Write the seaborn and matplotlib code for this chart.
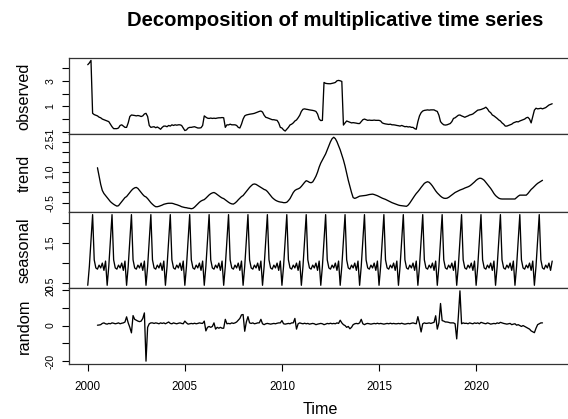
import numpy as np
import pandas as pd
import matplotlib
matplotlib.use("Agg")
import matplotlib.pyplot as plt
import seaborn as sns

# ---------------- data (monthly, Jan 2000 - Dec 2023) ----------------
start_year = 2000
observed = [
    4.26, 4.40, 4.60, 0.45, 0.35, 0.30, 0.25, 0.15, 0.10, 0.00, -0.05, -0.10,   # 2000
    -0.15, -0.20, -0.40, -0.60, -0.75, -0.75, -0.75, -0.70, -0.50, -0.45, -0.55, -0.65,  # 2001
    -0.65, -0.30, 0.20, 0.32, 0.30, 0.28, 0.25, 0.28, 0.25, 0.20, 0.25, 0.40,   # 2002
    0.45, 0.20, -0.50, -0.65, -0.62, -0.60, -0.68, -0.62, -0.70, -0.80, -0.65, -0.55,  # 2003
    -0.55, -0.60, -0.50, -0.55, -0.45, -0.50, -0.45, -0.48, -0.45, -0.45, -0.50, -0.70,  # 2004
    -0.90, -0.85, -0.70, -0.65, -0.65, -0.62, -0.60, -0.65, -0.70, -0.70, -0.68, -0.50,  # 2005
    0.25, 0.15, 0.07, 0.05, 0.08, 0.05, 0.07, 0.05, 0.08, 0.10, 0.10, 0.12,     # 2006
    0.10, -0.65, -0.45, -0.46, -0.40, -0.45, -0.45, -0.45, -0.50, -0.65, -0.70, -0.40,  # 2007
    0.00, 0.25, 0.32, 0.35, 0.38, 0.40, 0.42, 0.45, 0.50, 0.55, 0.60, 0.63,     # 2008
    0.55, 0.30, 0.14, 0.10, 0.05, 0.00, -0.05, -0.05, -0.08, -0.10, -0.30, -0.65,  # 2009
    -0.70, -0.85, -0.94, -0.80, -0.65, -0.46, -0.40, -0.30, -0.15, -0.07, 0.10, 0.30,  # 2010
    0.60, 0.77, 0.80, 0.77, 0.75, 0.72, 0.70, 0.68, 0.65, 0.60, 0.40, 0.00,     # 2011
    -0.12, -0.10, 2.87, 2.80, 2.78, 2.77, 2.77, 2.80, 2.83, 2.87, 3.00, 3.03,   # 2012
    3.00, 2.95, -0.47, -0.30, -0.15, -0.20, -0.25, -0.30, -0.28, -0.30, -0.32, -0.35,  # 2013
    -0.35, -0.20, -0.05, 0.00, -0.05, -0.10, -0.08, -0.10, -0.10, -0.08, -0.10, -0.10,  # 2014
    -0.10, -0.15, -0.30, -0.35, -0.38, -0.40, -0.42, -0.40, -0.45, -0.45, -0.47, -0.50,  # 2015
    -0.52, -0.55, -0.50, -0.55, -0.60, -0.58, -0.62, -0.60, -0.65, -0.65, -0.75, -0.80,  # 2016
    -0.20, 0.25, 0.50, 0.63, 0.68, 0.70, 0.72, 0.70, 0.72, 0.72, 0.72, 0.65,    # 2017
    0.60, 0.30, -0.20, -0.35, -0.45, -0.47, -0.45, -0.40, -0.35, -0.20, 0.05, 0.10,  # 2018
    0.20, 0.30, 0.32, 0.25, 0.20, 0.14, 0.20, 0.25, 0.32, 0.35, 0.40, 0.50,     # 2019
    0.60, 0.70, 0.72, 0.75, 0.80, 0.85, 0.93, 0.80, 0.60, 0.50, 0.32, 0.25,     # 2020
    0.15, 0.05, -0.07, -0.15, -0.30, -0.40, -0.55, -0.55, -0.50, -0.45, -0.40, -0.30,  # 2021
    -0.25, -0.20, -0.22, -0.15, -0.10, -0.05, 0.00, 0.10, 0.14, 0.00, -0.30, 0.20,  # 2022
    0.70, 0.85, 0.80, 0.82, 0.85, 0.80, 0.85, 0.90, 1.00, 1.10, 1.15, 1.20,     # 2023
]

# trend: Jul 2000 - Jun 2023
trend_start = 2000.5
trend = [
    1.22, 0.80, 0.40, 0.10, -0.05, -0.15,                                        # 2000 H2
    -0.25, -0.35, -0.45, -0.52, -0.58, -0.63, -0.67, -0.65, -0.55, -0.45, -0.35, -0.25,  # 2001
    -0.20, -0.10, 0.00, 0.10, 0.18, 0.23, 0.25, 0.20, 0.10, 0.00, -0.10, -0.18,  # 2002
    -0.22, -0.30, -0.40, -0.50, -0.58, -0.65, -0.70, -0.70, -0.68, -0.65, -0.62, -0.58,  # 2003
    -0.56, -0.54, -0.53, -0.53, -0.53, -0.55, -0.58, -0.60, -0.63, -0.66, -0.70, -0.72,  # 2004
    -0.74, -0.75, -0.77, -0.78, -0.80, -0.78, -0.72, -0.64, -0.56, -0.48, -0.42, -0.38,  # 2005
    -0.35, -0.28, -0.20, -0.12, -0.06, -0.02, 0.00, -0.04, -0.10, -0.16, -0.22, -0.27,  # 2006
    -0.30, -0.36, -0.42, -0.48, -0.53, -0.56, -0.57, -0.52, -0.45, -0.36, -0.28, -0.20,  # 2007
    -0.15, -0.05, 0.05, 0.15, 0.25, 0.33, 0.40, 0.42, 0.40, 0.35, 0.30, 0.25,    # 2008
    0.20, 0.15, 0.12, 0.05, -0.05, -0.15, -0.25, -0.32, -0.38, -0.42, -0.45, -0.47,  # 2009
    -0.48, -0.50, -0.50, -0.48, -0.40, -0.30, -0.15, 0.00, 0.10, 0.15, 0.18, 0.22,  # 2010
    0.30, 0.40, 0.50, 0.58, 0.55, 0.50, 0.48, 0.52, 0.65, 0.80, 1.00, 1.25,     # 2011
    1.45, 1.60, 1.75, 1.90, 2.10, 2.30, 2.50, 2.65, 2.72, 2.65, 2.50, 2.30,     # 2012
    2.10, 1.85, 1.60, 1.30, 0.94, 0.60, 0.30, 0.00, -0.25, -0.29, -0.26, -0.22,  # 2013
    -0.18, -0.17, -0.16, -0.15, -0.14, -0.12, -0.10, -0.09, -0.08, -0.10, -0.13, -0.16,  # 2014
    -0.20, -0.24, -0.28, -0.31, -0.34, -0.38, -0.42, -0.46, -0.50, -0.53, -0.56, -0.59,  # 2015
    -0.62, -0.64, -0.65, -0.66, -0.67, -0.68, -0.62, -0.52, -0.40, -0.28, -0.16, -0.05,  # 2016
    0.04, 0.14, 0.25, 0.35, 0.45, 0.50, 0.53, 0.50, 0.42, 0.32, 0.20, 0.08,     # 2017
    -0.02, -0.10, -0.18, -0.24, -0.28, -0.29, -0.28, -0.24, -0.18, -0.12, -0.06, 0.00,  # 2018
    0.04, 0.08, 0.12, 0.15, 0.18, 0.22, 0.25, 0.28, 0.32, 0.38, 0.45, 0.52,     # 2019
    0.60, 0.66, 0.70, 0.70, 0.66, 0.60, 0.50, 0.40, 0.30, 0.20, 0.08, -0.05,    # 2020
    -0.15, -0.22, -0.28, -0.31, -0.32, -0.32, -0.32, -0.32, -0.32, -0.32, -0.32, -0.32,  # 2021
    -0.32, -0.25, -0.18, -0.13, -0.13, -0.13, -0.13, -0.13, -0.05, 0.05, 0.15, 0.22,  # 2022
    0.30, 0.38, 0.45, 0.50, 0.55, 0.60,                                          # 2023 H1
]

# seasonal figure (Jan..Dec), repeated every year
seasonal_months = [0.45, 0.92, 1.55, 2.20, 1.08, 0.88, 0.85, 0.95, 0.88, 1.00, 0.82, 1.05]

# random: Jul 2000 - Jun 2023
random_part = [
    0.2, 0.3, 0.5, 1.2, 1.5, 1.0,                                                # 2000 H2
    0.8, 1.2, 1.0, 1.5, 1.3, 1.0, 1.2, 1.5, 1.0, 1.3, 1.5, 2.0,                  # 2001
    4.9, 1.5, -1.0, -4.1, 5.6, 3.5, 3.0, 2.5, 2.2, 2.5, 4.0, 7.1,                # 2002
    -20.0, -1.0, 1.0, 1.5, 1.5, 1.2, 1.5, 1.3, 1.0, 1.5, 1.2, 1.5,               # 2003
    1.0, 1.5, 2.0, 1.2, 1.0, 1.5, 1.2, 1.0, 1.3, 1.5, 1.2, 1.0,                  # 2004
    2.5, 1.5, 0.8, 1.0, 1.2, 1.0, 1.3, 1.0, 1.2, 1.5, 1.3, 1.2,                  # 2005
    2.5, -3.0, -1.0, -0.5, -1.0, -0.5, 1.5, -2.0, -1.0, -1.5, -1.0, -1.5,        # 2006
    -1.5, 3.5, 1.0, 1.2, 1.0, 1.5, 1.2, 1.5, 2.0, 3.0, 4.0, 6.0,                 # 2007
    6.2, -3.2, 2.0, 5.0, 1.5, 1.2, 1.5, 1.0, 1.2, 1.5, 1.5, 3.5,                 # 2008
    1.0, 0.5, 1.0, 1.2, 1.0, 0.8, 1.0, 1.2, 1.0, 1.3, 1.5, 1.5,                  # 2009
    2.8, 1.0, 0.8, 1.0, 1.2, 1.0, 1.5, 1.5, 4.0, -2.0, 1.0, 1.5,                 # 2010
    1.2, 1.0, 1.3, 1.0, 1.2, 0.8, 1.0, 1.2, 1.0, 0.5, 0.8, 1.0,                  # 2011
    1.2, 1.0, 0.5, 0.8, 1.2, 1.0, 1.3, 1.0, 1.2, 1.0, 1.5, 1.2,                  # 2012
    3.0, 1.5, 0.5, 0.0, -1.0, -0.5, -1.8, -1.0, 0.5, 1.0, 1.2, 1.0,              # 2013
    1.5, 3.5, 1.0, 0.5, 1.0, 1.2, 1.0, 0.8, 1.0, 1.2, 1.0, 1.3,                  # 2014
    1.0, 1.2, 1.0, 0.8, 1.0, 1.2, 1.0, 1.3, 1.0, 1.2, 1.0, 1.0,                  # 2015
    1.2, 1.0, 1.3, 1.0, 0.8, 1.0, 1.2, 1.0, 1.3, 1.5, 1.2, 1.0,                  # 2016
    5.0, 1.0, -3.6, 1.0, 1.5, 1.2, 1.3, 1.5, 1.2, 1.5, 1.8, 5.5,                 # 2017
    -2.0, 1.5, 12.4, 2.8, 2.5, 2.0, 2.0, 1.8, 1.5, 1.5, 1.5, 1.0,                # 2018
    -7.5, 5.0, 19.5, 1.0, 1.5, 1.2, 1.3, 1.0, 1.5, 1.2, 1.0, 1.5,                # 2019
    1.2, 1.5, 1.0, 1.8, 1.5, 1.2, 1.0, 1.5, 1.2, 0.8, 1.0, 1.2,                  # 2020
    1.0, 1.5, 1.2, 1.8, 1.5, 1.2, 1.0, 0.8, 1.0, 1.2, 0.5, 0.8,                  # 2021
    1.0, 0.2, 0.5, 0.0, -0.5, 0.0, -0.5, -1.0, -1.5, -2.0, -3.0, -3.5,           # 2022
    -4.0, -1.5, 0.5, 1.0, 1.5, 1.5,                                              # 2023 H1
]

panel_names = ["observed", "trend", "seasonal", "random"]
x_ticks = [2000, 2005, 2010, 2015, 2020]
title = "Decomposition of multiplicative time series"

# ---------------- build frames ----------------
n_obs = len(observed)
t_obs = start_year + np.arange(n_obs) / 12.0
n_years = n_obs // 12
seasonal = np.tile(seasonal_months, n_years)
t_trend = trend_start + np.arange(len(trend)) / 12.0
t_rand = trend_start + np.arange(len(random_part)) / 12.0

frames = [
    pd.DataFrame({"time": t_obs, "value": observed}),
    pd.DataFrame({"time": t_trend, "value": trend}),
    pd.DataFrame({"time": t_obs, "value": seasonal}),
    pd.DataFrame({"time": t_rand, "value": random_part}),
]

# ---------------- styling ----------------
sns.set_style("ticks")
plt.rcParams["font.family"] = ["Liberation Sans", "DejaVu Sans"]
plt.rcParams["text.color"] = "black"
plt.rcParams["axes.labelcolor"] = "black"

W, H = 568, 419
fig = plt.figure(figsize=(W / 100, H / 100), dpi=100)

panels_px = [(57.7, 134.0), (134.0, 212.0), (212.0, 288.0), (288.0, 364.0)]
ylims = [(-1.17, 4.81), (-0.96, 2.88), (0.383, 2.265), (-21.6, 21.1)]
yticks = [
    [-1, 0, 1, 2, 3, 4],
    [-0.5, 0.0, 0.5, 1.0, 1.5, 2.0, 2.5],
    [0.5, 1.0, 1.5, 2.0],
    [-20, -10, 0, 10, 20],
]
ylabels_shown = [
    {3: "3", 1: "1", -1: "-1"},
    {2.5: "2.5", 1.0: "1.0", -0.5: "-0.5"},
    {1.5: "1.5", 0.5: "0.5"},
    {20: "20", 0: "0", -20: "-20"},
]
xlim = (1999.05, 2024.87)
left_px, width_px = 69.3, 501.4

for i, (df, (top, bot)) in enumerate(zip(frames, panels_px)):
    ax = fig.add_axes([left_px / W, 1 - bot / H, width_px / W, (bot - top) / H])
    sns.lineplot(data=df, x="time", y="value", ax=ax, color="black",
                 linewidth=0.95, errorbar=None, sort=True)
    ax.set_xlim(*xlim)
    ax.set_ylim(*ylims[i])
    ax.set_xlabel("")
    ax.set_ylabel("")
    ax.set_yticks(yticks[i])
    ax.set_yticklabels([ylabels_shown[i].get(v, "") for v in yticks[i]])
    ax.tick_params(axis="y", direction="out", length=5, width=0.8,
                   labelsize=7.6, pad=5, labelrotation=90, colors="black")
    for lab in ax.get_yticklabels():
        lab.set_va("center")
    for s in ax.spines.values():
        s.set_visible(True)
        s.set_linewidth(0.9)
        s.set_color("#333333")
    if i < 3:
        ax.set_xticks([])
    else:
        ax.set_xticks(x_ticks)
        ax.set_xticklabels([str(v) for v in x_ticks])
        ax.tick_params(axis="x", direction="out", length=5, width=0.8,
                       labelsize=8.4, pad=7, colors="black")
    fig.text(24 / W, 1 - ((top + bot) / 2) / H, panel_names[i], rotation=90,
             ha="center", va="center", fontsize=11.8, color="black")

fig.text(320 / W, 1 - 409 / H, "Time", ha="center", va="center",
         fontsize=11.6, color="black")
fig.text(335 / W, 1 - 20 / H, title, ha="center", va="center",
         fontsize=14.6, fontweight="bold", color="black")

fig.savefig("out.png", dpi=100)
